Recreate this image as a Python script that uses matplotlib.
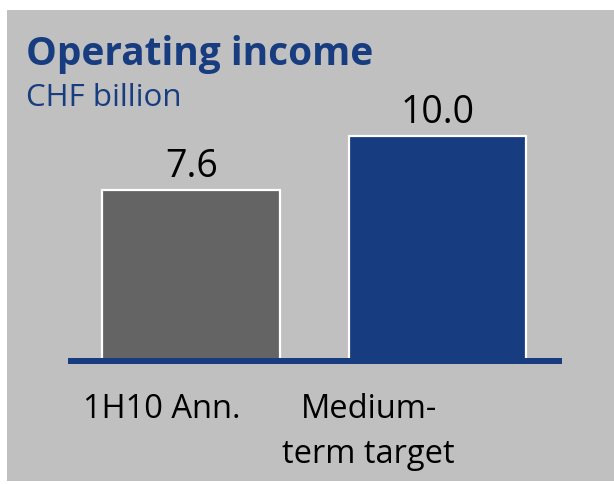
import matplotlib.pyplot as plt
from matplotlib.patches import Rectangle

# operating income, CHF billion
categories = ["1H10 Ann.", "Medium-\nterm target"]
values = [7.6, 10.0]
value_labels = ["7.6", "10.0"]
bar_colors = ["#646464", "#183c80"]

title = "Operating income"
subtitle = "CHF billion"

BLUE = "#183c80"
PANEL = "#c0c0c0"
W, H = 614, 484

plt.rcParams["font.family"] = ["Open Sans", "DejaVu Sans"]

fig = plt.figure(figsize=(W / 100, H / 100), dpi=100)
fig.patch.set_facecolor("white")


def px(x, y):
    # pixel position (from top-left) to figure fraction
    return x / W, 1 - y / H


# grey panel behind everything
x0, y1 = px(7, 10)
_, y0 = px(7, 481)
fig.patches.append(Rectangle((x0, y0), 1 - x0, y1 - y0,
                             transform=fig.transFigure, facecolor=PANEL,
                             edgecolor="none", zorder=-5))

# axes spanning the baseline; y=0 at the blue line, y=10 at the top of the taller bar
left, bottom = px(68, 361)
right, top = px(562, 136)
ax = fig.add_axes([left, bottom, right - left, top - bottom])
ax.set_xlim(-0.5, 1.505)
ax.set_ylim(0, 10)
ax.axis("off")

xs = range(len(values))
ax.bar(xs, values, width=0.72, color=bar_colors, edgecolor="white",
       linewidth=1.6, clip_on=False, zorder=2)
ax.axhline(0, color=BLUE, linewidth=6 * 0.72, clip_on=False, zorder=3,
           solid_capstyle="butt")

pt = 0.72  # points per pixel
for x, v, lab in zip(xs, values, value_labels):
    ax.annotate(lab, (x, v), xytext=(0, 13 * pt), textcoords="offset points",
                ha="center", va="baseline", fontsize=27, color="black")

label_dx = [-29, -69]
for x, lab, dx in zip(xs, categories, label_dx):
    for k, line in enumerate(lab.split("\n")):
        ax.annotate(line, (x, 0), xytext=(dx * pt, -(57 + 45 * k) * pt),
                    textcoords="offset points", ha="center", va="baseline",
                    fontsize=23.5, color="black", annotation_clip=False)

tx, ty = px(26, 65)
fig.text(tx, ty, title, fontsize=28, fontweight="bold", color=BLUE,
         va="baseline", ha="left")
tx, ty = px(26, 106)
fig.text(tx, ty, subtitle, fontsize=22.5, color=BLUE, va="baseline", ha="left")

fig.savefig("out.png", dpi=100, facecolor=fig.get_facecolor())
